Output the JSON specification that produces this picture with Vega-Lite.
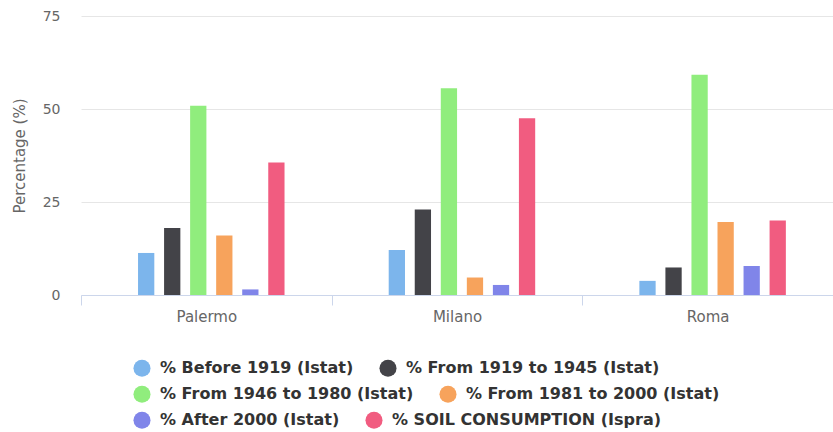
{
  "$schema": "https://vega.github.io/schema/vega-lite/v6.json",
  "width": 752,
  "height": 279,
  "autosize": {"type": "none"},
  "padding": {"left": 81, "top": 16, "right": 0, "bottom": 137},
  "background": "#ffffff",
  "config": {
    "font": "DejaVu Sans",
    "view": {"stroke": null},
    "legend": {
      "title": null,
      "orient": "none",
      "direction": "horizontal",
      "symbolType": "circle",
      "symbolSize": 290,
      "symbolStrokeWidth": 0,
      "labelFontSize": 16,
      "labelFontWeight": "bold",
      "labelColor": "#333333",
      "labelLimit": 400,
      "columnPadding": 25,
      "labelOffset": 9
    }
  },
  "data": {
    "values": [
      {"city": "Palermo", "series": "% Before 1919 (Istat)", "row": 1, "value": 11.3},
      {"city": "Palermo", "series": "% From 1919 to 1945 (Istat)", "row": 1, "value": 18.0},
      {"city": "Palermo", "series": "% From 1946 to 1980 (Istat)", "row": 2, "value": 50.9},
      {"city": "Palermo", "series": "% From 1981 to 2000 (Istat)", "row": 2, "value": 16.0},
      {"city": "Palermo", "series": "% After 2000 (Istat)", "row": 3, "value": 1.5},
      {"city": "Palermo", "series": "% SOIL CONSUMPTION (Ispra)", "row": 3, "value": 35.6},
      {"city": "Milano", "series": "% Before 1919 (Istat)", "row": 1, "value": 12.1},
      {"city": "Milano", "series": "% From 1919 to 1945 (Istat)", "row": 1, "value": 23.0},
      {"city": "Milano", "series": "% From 1946 to 1980 (Istat)", "row": 2, "value": 55.6},
      {"city": "Milano", "series": "% From 1981 to 2000 (Istat)", "row": 2, "value": 4.7},
      {"city": "Milano", "series": "% After 2000 (Istat)", "row": 3, "value": 2.7},
      {"city": "Milano", "series": "% SOIL CONSUMPTION (Ispra)", "row": 3, "value": 47.5},
      {"city": "Roma", "series": "% Before 1919 (Istat)", "row": 1, "value": 3.8},
      {"city": "Roma", "series": "% From 1919 to 1945 (Istat)", "row": 1, "value": 7.4},
      {"city": "Roma", "series": "% From 1946 to 1980 (Istat)", "row": 2, "value": 59.2},
      {"city": "Roma", "series": "% From 1981 to 2000 (Istat)", "row": 2, "value": 19.6},
      {"city": "Roma", "series": "% After 2000 (Istat)", "row": 3, "value": 7.8},
      {"city": "Roma", "series": "% SOIL CONSUMPTION (Ispra)", "row": 3, "value": 20.0}
    ]
  },
  "encoding": {
    "x": {
      "field": "city",
      "type": "nominal",
      "sort": ["Palermo", "Milano", "Roma"],
      "scale": {"paddingInner": 0, "paddingOuter": 0},
      "axis": {
        "title": null,
        "labelAngle": 0,
        "labelFontSize": 15,
        "labelColor": "#666666",
        "labelPadding": 4,
        "domainColor": "#ccd6eb",
        "tickColor": "#ccd6eb",
        "tickSize": 10,
        "tickBand": "extent",
        "grid": false
      }
    },
    "xOffset": {
      "field": "series",
      "type": "nominal",
      "scale": {
        "domain": ["_pad1", "% Before 1919 (Istat)", "% From 1919 to 1945 (Istat)", "% From 1946 to 1980 (Istat)", "% From 1981 to 2000 (Istat)", "% After 2000 (Istat)", "% SOIL CONSUMPTION (Ispra)", "_pad2"],
        "paddingInner": 0.375,
        "paddingOuter": 1,
        "align": 0.595
      }
    },
    "y": {
      "field": "value",
      "type": "quantitative",
      "scale": {"domain": [0, 75]},
      "axis": {
        "title": "Percentage (%)",
        "values": [0, 25, 50, 75],
        "domain": false,
        "ticks": false,
        "gridColor": "#e6e6e6",
        "labelFontSize": 14,
        "labelColor": "#666666",
        "labelPadding": 21,
        "titleFontSize": 15,
        "titleFontWeight": "normal",
        "titleColor": "#666666",
        "titlePadding": 15
      }
    }
  },
  "layer": [
    {
      "transform": [{"filter": "datum.row == 1"}],
      "mark": {"type": "bar"},
      "encoding": {
        "color": {
          "field": "series",
          "type": "nominal",
          "scale": {
            "domain": ["% Before 1919 (Istat)", "% From 1919 to 1945 (Istat)"],
            "range": ["#7cb5ec", "#434348"]
          },
          "legend": {"legendX": 52, "legendY": 343}
        }
      }
    },
    {
      "transform": [{"filter": "datum.row == 2"}],
      "mark": {"type": "bar"},
      "encoding": {
        "color": {
          "field": "series",
          "type": "nominal",
          "scale": {
            "domain": ["% From 1946 to 1980 (Istat)", "% From 1981 to 2000 (Istat)"],
            "range": ["#90ed7d", "#f7a35c"]
          },
          "legend": {"legendX": 52, "legendY": 369}
        }
      }
    },
    {
      "transform": [{"filter": "datum.row == 3"}],
      "mark": {"type": "bar"},
      "encoding": {
        "color": {
          "field": "series",
          "type": "nominal",
          "scale": {
            "domain": ["% After 2000 (Istat)", "% SOIL CONSUMPTION (Ispra)"],
            "range": ["#8085e9", "#f15c80"]
          },
          "legend": {"legendX": 52, "legendY": 395}
        }
      }
    }
  ],
  "resolve": {"scale": {"color": "independent"}, "legend": {"color": "independent"}}
}
